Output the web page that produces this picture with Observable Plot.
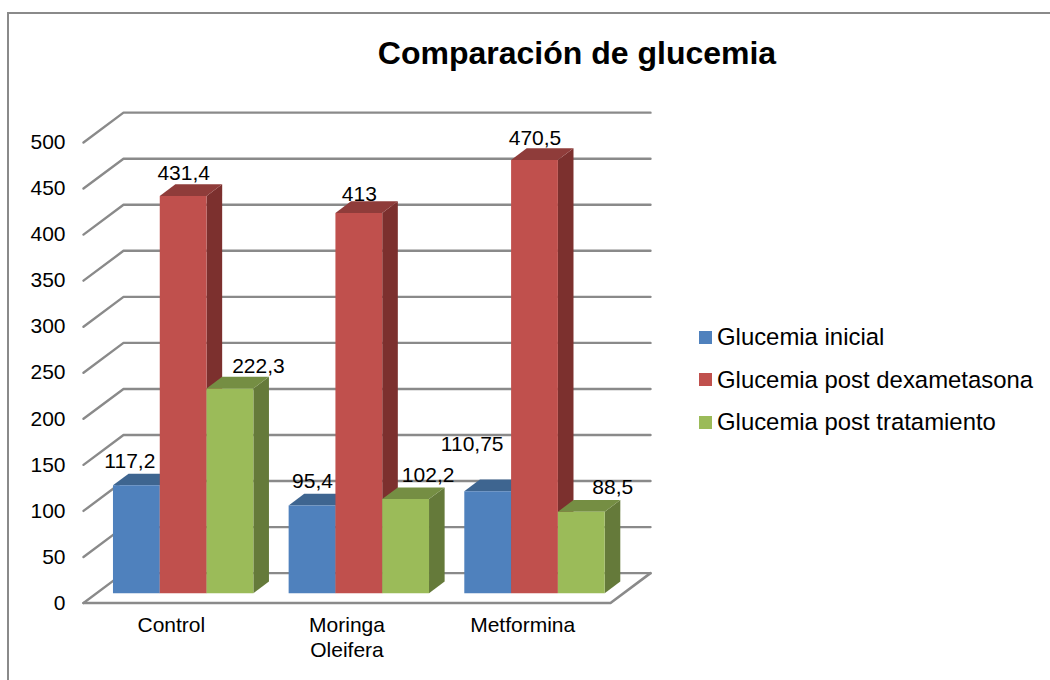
<!DOCTYPE html>
<html lang="es">
<head>
<meta charset="utf-8">
<script src="https://cdn.jsdelivr.net/npm/d3@7"></script>
<script src="https://cdn.jsdelivr.net/npm/@observablehq/plot@0.6"></script>
<style>
  html, body { margin: 0; padding: 0; background: #fff; overflow: hidden; }
  body { width: 1050px; height: 680px; position: relative; font-family: "Liberation Sans", Arial, sans-serif; color: #000; }
  #frame { position: absolute; left: 7px; top: 12px; right: -5px; bottom: -5px; border-left: 2px solid #8a8a8a; border-top: 2px solid #8a8a8a; }
  #chart { position: absolute; left: 0; top: 0; }
  #title { position: absolute; left: 277px; width: 600px; top: 34px; text-align: center; font-size: 32px; font-weight: bold; line-height: 38px; }
  #legend { position: absolute; left: 699px; top: 316px; font-size: 23.9px; }
  .row { display: flex; align-items: center; height: 42.5px; white-space: nowrap; }
  .sw { width: 13px; height: 13px; margin-right: 5px; flex: none; }
</style>
</head>
<body>
<div id="frame"></div>
<div id="chart"></div>
<div id="title">Comparación de glucemia</div>
<div id="legend"></div>
<script>
const categories = ["Control", "Moringa\nOleifera", "Metformina"];
const seriesNames = ["Glucemia inicial", "Glucemia post dexametasona", "Glucemia post tratamiento"];
const inicial = [117.2, 95.4, 110.75];
const dexametasona = [431.4, 413, 470.5];
const tratamiento = [222.3, 102.2, 88.5];
const yTicks = [0, 50, 100, 150, 200, 250, 300, 350, 400, 450, 500];
const frontColors = ["#4F81BD", "#C0504D", "#9BBB59"];
const topColors = ["#3E6590", "#8F3C3A", "#758E43"];
const sideColors = ["#3A5E88", "#7C302E", "#657A3A"];

const series = [inicial, dexametasona, tratamiento];

// Oblique projection expressed in scale units
const DX = 0.2277, DY = 32.4, D0 = 0.31, D1 = 0.70;
const barW = 0.2664, groupPad = 0.1;
const PXX = 175.67, PXY = 0.9208;
const P = (x, y, d) => ({x: x + d * DX, y: y + d * DY});

function quad(a, b, c, d, fill) {
  return Plot.area(
    [{x1: a.x, y1: a.y, x2: b.x, y2: b.y}, {x1: d.x, y1: d.y, x2: c.x, y2: c.y}],
    {x1: "x1", y1: "y1", x2: "x2", y2: "y2", fill}
  );
}

const gridLines = yTicks.flatMap((v) => [
  {v, ...P(0, v, 0)}, {v, ...P(0, v, 1)}, {v, ...P(categories.length, v, 1)}
]);
const floorLine = [P(0, 0, 0), P(categories.length, 0, 0), P(categories.length, 0, 1)];

const barMarks = [];
const labels = [];
const nudgeX = [[-7, 0, 28], [0, 0, 22], [-16, 0, 31]];
const nudgeY = [[13, 12, 11], [13, 7, 12.5], [36, 11, 13.6]];
categories.forEach((_, g) => {
  series.forEach((vals, s) => {
    const v = vals[g];
    const xa = g + groupPad + s * barW, xb = xa + barW;
    barMarks.push(
      quad(P(xb, 0, D0), P(xb, v, D0), P(xb, v, D1), P(xb, 0, D1), sideColors[s]),
      quad(P(xa, v, D0), P(xb, v, D0), P(xb, v, D1), P(xa, v, D1), topColors[s]),
      quad(P(xa, 0, D0), P(xb, 0, D0), P(xb, v, D0), P(xa, v, D0), frontColors[s])
    );
    const t = P(xa + barW / 2, v, D1);
    labels.push({
      x: xa + barW / 2 + D0 * DX + nudgeX[g][s] / PXX,
      y: t.y + nudgeY[g][s] / PXY,
      text: String(v).replace(".", ",")
    });
  });
});

const chart = Plot.plot({
  width: 1050,
  height: 680,
  marginLeft: 83,
  marginRight: 440,
  marginTop: 142,
  marginBottom: 77.5,
  style: {background: "transparent", fontFamily: "'Liberation Sans', Arial, sans-serif", overflow: "visible"},
  x: {domain: [0, categories.length]},
  y: {domain: [0, 500]},
  marks: [
    Plot.line(gridLines, {x: "x", y: "y", z: "v", stroke: "#8a8a8a", strokeWidth: 2.4, strokeLinejoin: "miter"}),
    Plot.line(floorLine, {x: "x", y: "y", stroke: "#8a8a8a", strokeWidth: 2.6}),
    ...barMarks,
    Plot.axisY({ticks: yTicks, tickSize: 0, tickPadding: 18, fontSize: 21, label: null, tickFormat: (d) => String(d), color: "#000"}),
    Plot.axisX({
      ticks: categories.map((_, i) => i + 0.5),
      tickFormat: (d) => categories[Math.floor(d)],
      tickSize: 0, tickPadding: 11, fontSize: 21, lineHeight: 1.21, label: null, color: "#000"
    }),
    Plot.text(labels, {x: "x", y: "y", text: "text", fontSize: 21, fill: "#000"})
  ]
});
document.getElementById("chart").append(chart);

const legend = document.getElementById("legend");
seriesNames.forEach((name, i) => {
  const row = document.createElement("div");
  row.className = "row";
  const sw = document.createElement("span");
  sw.className = "sw";
  sw.style.background = frontColors[i];
  const label = document.createElement("span");
  label.textContent = name;
  row.append(sw, label);
  legend.append(row);
});
</script>
</body>
</html>
